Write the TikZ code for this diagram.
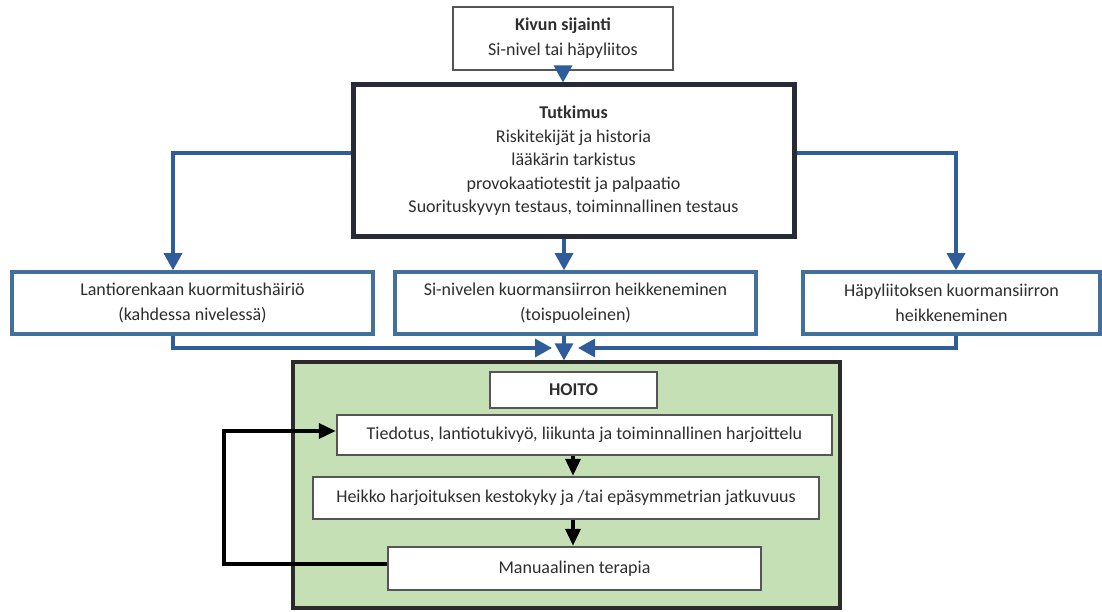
\documentclass[tikz,border=0pt]{standalone}
\usepackage{fontspec}
\setmainfont{Carlito}
\usetikzlibrary{arrows.meta}
\definecolor{txt}{HTML}{2E2E2E}
\definecolor{conn}{HTML}{2F5D9B}
\definecolor{sbox}{HTML}{41709A}
\definecolor{dbox}{HTML}{262B36}
\definecolor{gfill}{HTML}{C5E0B4}
\definecolor{gline}{HTML}{2B2B2B}
\definecolor{ibox}{HTML}{555555}
\begin{document}
\begin{tikzpicture}[x=1pt,y=-1pt,
  every node/.style={font=\fontsize{18}{25}\selectfont, text=txt, align=center, inner sep=0pt},
  box/.style={draw, fill=white, rectangle},
  topbox/.style={box, draw=ibox, line width=2.2pt},
  mainbox/.style={box, draw=dbox, line width=5pt},
  midbox/.style={box, draw=sbox, line width=3.5pt},
  carebox/.style={draw=gline, fill=gfill, line width=3.2pt, rectangle},
  inbox/.style={box, draw=ibox, line width=2.4pt},
  bl/.style={draw=conn, line width=3.2pt, -{Triangle[width=18pt,length=17pt]}},
  blk/.style={draw=black, line width=3.4pt, -{Triangle[width=15pt,length=17pt]}},
]
\useasboundingbox (0,0) rectangle (1102,612);
\fill[white] (0,0) rectangle (1102,612);

% nodes
\node[topbox, minimum width=220, minimum height=63] (top) at (563,38.5)
  {\textbf{Kivun sijainti}\\Si-nivel tai häpyliitos};
\node[mainbox, minimum width=441, minimum height=152,
  font=\fontsize{18}{23.5}\selectfont] (tut) at (573.5,161)
  {\textbf{Tutkimus}\\Riskitekijät ja historia\\lääkärin tarkistus\\provokaatiotestit ja palpaatio\\Suorituskyvyn testaus, toiminnallinen testaus};
\node[midbox, minimum width=361, minimum height=62] (lan) at (192.5,303)
  {Lantiorenkaan kuormitushäiriö\\(kahdessa nivelessä)};
\node[midbox, minimum width=361, minimum height=62] (si) at (575.5,303)
  {Si-nivelen kuormansiirron heikkeneminen\\(toispuoleinen)};
\node[midbox, minimum width=297, minimum height=62] (hap) at (951.5,303)
  {Häpyliitoksen kuormansiirron\\heikkeneminen};

\node[carebox, minimum width=547, minimum height=246] (care) at (566.5,485) {};
\node[inbox, minimum width=167, minimum height=36] (hoito) at (573.5,390) {\textbf{HOITO}};
\node[inbox, minimum width=495, minimum height=40] (tied) at (584.5,435)
  {Tiedotus, lantiotukivyö, liikunta ja toiminnallinen harjoittelu};
\node[inbox, minimum width=506, minimum height=42] (heik) at (566,498)
  {Heikko harjoituksen kestokyky ja /tai epäsymmetrian jatkuvuus};
\node[inbox, minimum width=373, minimum height=43] (man) at (574.5,568.5)
  {Manuaalinen terapia};

% helper coordinates
\coordinate (cx) at (564,0);
\coordinate (lx) at (173,153);
\coordinate (rx) at (956,153);
\coordinate (jl) at (552,348);
\coordinate (jr) at (578,348);
\coordinate (ax) at (573,0);
\coordinate (lp) at (224,564);
\coordinate (lt) at (224,431);

% blue connectors
\draw[bl] (top.south) -- (top.south |- tut.north);
\draw[bl] (tut.south -| cx) -- (si.north -| cx);
\draw[bl] (tut.west |- lx) -| (lan.north -| lx);
\draw[bl] (tut.east |- rx) -| (hap.north -| rx);
\draw[bl] (lan.south -| lx) |- (jl);
\draw[bl] (hap.south -| rx) |- (jr);
\draw[bl] (si.south -| cx) -- (care.north -| cx);

% black connectors
\draw[blk] (tied.south -| ax) -- (heik.north -| ax);
\draw[blk] (heik.south -| ax) -- (man.north -| ax);
\draw[blk] (man.west |- lp) -- (lp) -- (lt) -- (tied.west |- lt);
\end{tikzpicture}
\end{document}
